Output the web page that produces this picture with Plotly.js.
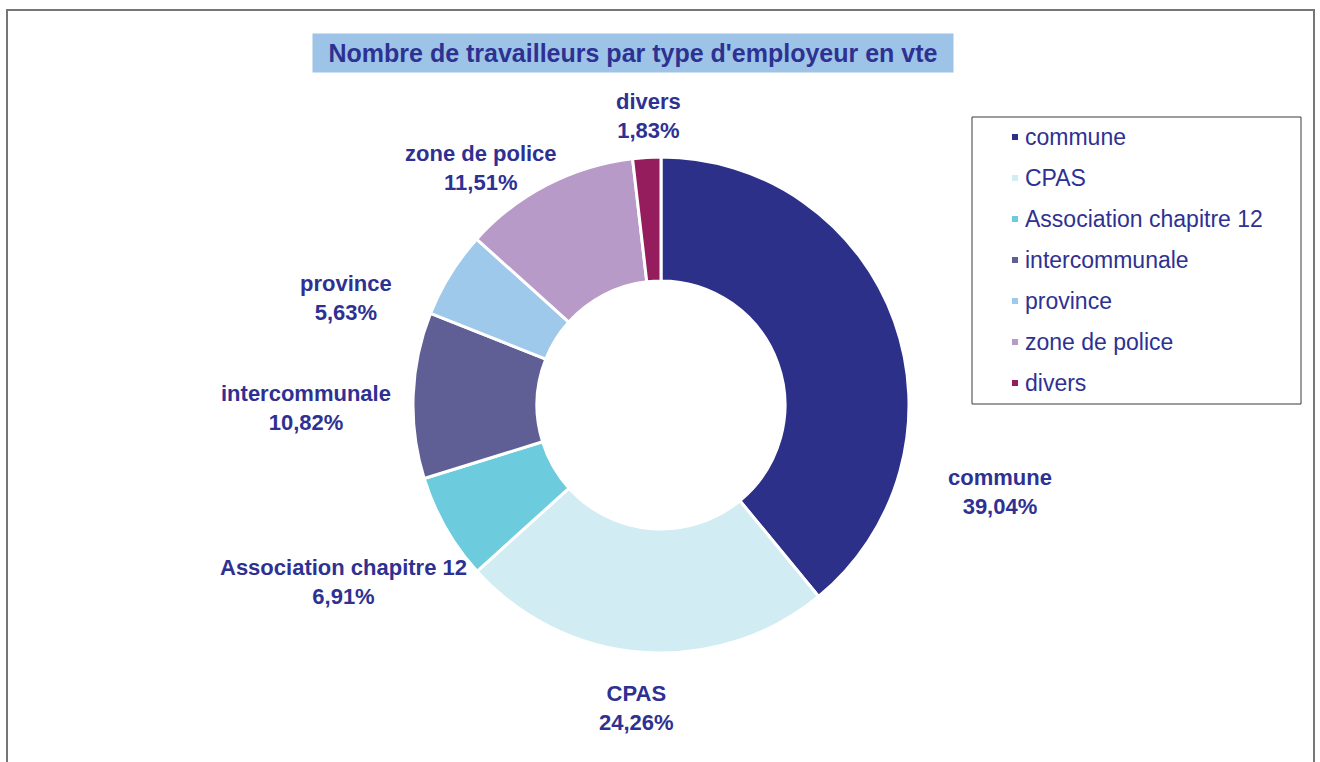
<!DOCTYPE html>
<html>
<head>
<meta charset="utf-8">
<script src="https://cdn.plot.ly/plotly-3.0.1.min.js"></script>
<style>html,body{margin:0;padding:0;background:#fff;}#chart{width:1320px;height:762px;}</style>
</head>
<body>
<div id="chart"></div>
<script>
// ---- data ----
const categories = ["commune", "CPAS", "Association chapitre 12", "intercommunale", "province", "zone de police", "divers"];
const shares = [39.04, 24.26, 6.91, 10.82, 5.63, 11.51, 1.83];
const sliceColors = ["#2c3089", "#d1ecf2", "#6ccbdc", "#5f5f95", "#9fc9eb", "#b89ac8", "#951d5e"];
const chartTitle = "Nombre de travailleurs par type d'employeur en vte";

// ---- layout helpers (pixels -> paper) ----
const W = 1320, H = 762;
const px = x => x / W;
const py = y => 1 - y / H;
const textColor = "#2e3192";
const boldFont = "Liberation Sans, Arial, sans-serif";
const regFont = "Liberation Sans, Arial, sans-serif";

// pie geometry
const cx = 661, cy = 405, R = 248;

// label placement (label boxes, centres in px), as in reference
const labelPos = [[1000, 492], [636, 708], [343, 582], [306, 408], [346, 298], [481, 168], [648, 116]];

const total = shares.reduce((a, b) => a + b, 0);
const pctText = shares.map(v => (v / total * 100).toFixed(2).replace('.', ',') + '%');

const annotations = [];
// title
annotations.push({
  xref: 'paper', yref: 'paper', x: px(633), y: py(53), xanchor: 'center', yanchor: 'middle',
  text: '<b>' + chartTitle + '</b>', showarrow: false,
  font: {family: regFont, size: 25, color: textColor},
  bgcolor: '#9dc4e7', width: 640, height: 38, borderpad: 0
});
// slice labels
categories.forEach((c, i) => {
  annotations.push({
    xref: 'paper', yref: 'paper', x: px(labelPos[i][0]), y: py(labelPos[i][1]),
    xanchor: 'center', yanchor: 'middle', showarrow: false, align: 'center',
    text: '<b>' + c + '<br>' + pctText[i] + '</b>',
    font: {family: boldFont, size: 22, color: textColor}
  });
});

// manual legend
const shapes = [];
// outer chart border
shapes.push({type: 'rect', xref: 'paper', yref: 'paper', x0: px(7), x1: px(1314), y0: py(780), y1: py(10),
  line: {color: '#767676', width: 2}, fillcolor: 'rgba(0,0,0,0)'});
// legend box
shapes.push({type: 'rect', xref: 'paper', yref: 'paper', x0: px(972), x1: px(1301), y0: py(404), y1: py(117),
  line: {color: '#3a3a3a', width: 1}, fillcolor: 'rgba(0,0,0,0)'});
const legTop = 137, legStep = 41;
categories.forEach((c, i) => {
  const y = legTop + legStep * i;
  shapes.push({type: 'rect', xref: 'paper', yref: 'paper', x0: px(1012), x1: px(1018), y0: py(y + 3), y1: py(y - 3),
    line: {width: 0}, fillcolor: sliceColors[i]});
  annotations.push({xref: 'paper', yref: 'paper', x: px(1023), y: py(y), xanchor: 'left', yanchor: 'middle',
    showarrow: false, text: c, font: {family: regFont, size: 23, color: textColor}});
});

const trace = {
  type: 'pie',
  labels: categories,
  values: shares,
  sort: false,
  direction: 'clockwise',
  rotation: 0,
  hole: 0.5,
  textinfo: 'none',
  hoverinfo: 'label+percent',
  marker: {colors: sliceColors, line: {color: '#ffffff', width: 3}},
  domain: {x: [px(cx - R), px(cx + R)], y: [py(cy + R), py(cy - R)]},
  showlegend: false
};

const layout = {
  width: W, height: H,
  margin: {l: 0, r: 0, t: 0, b: 0},
  paper_bgcolor: '#ffffff',
  showlegend: false,
  separators: ', ',
  annotations: annotations,
  shapes: shapes
};

Plotly.newPlot('chart', [trace], layout, {displayModeBar: false, staticPlot: true});
</script>
</body>
</html>
